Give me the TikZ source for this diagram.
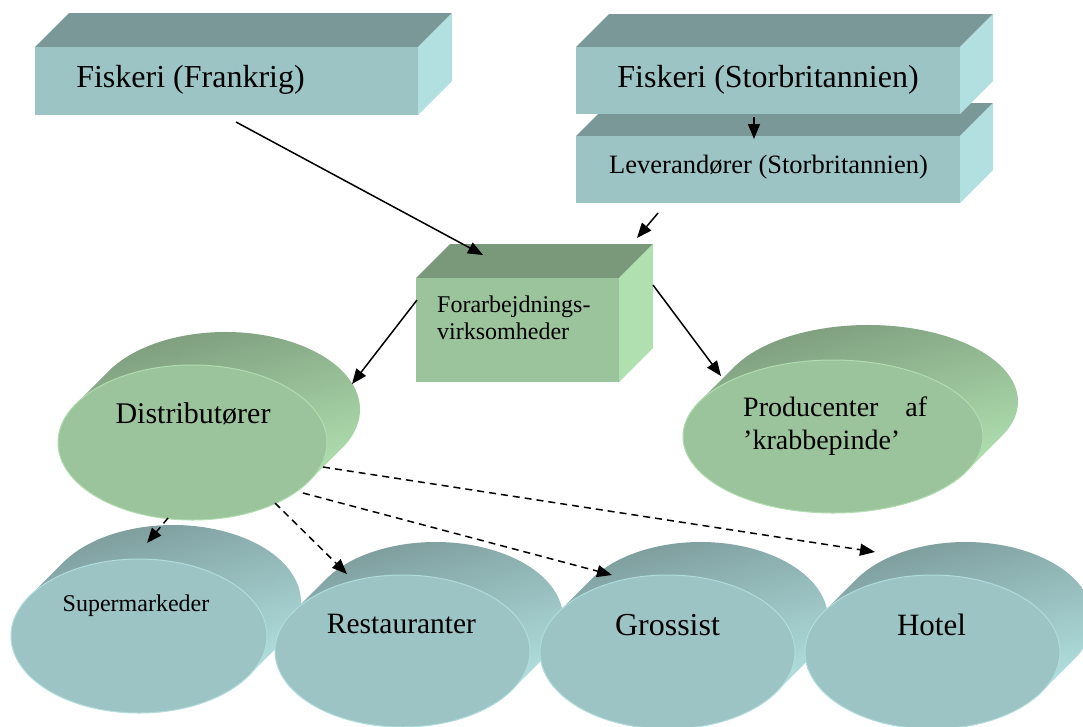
\documentclass[tikz,border=0pt]{standalone}
\usepackage{fontspec}
\setmainfont{Liberation Serif}
\usetikzlibrary{shapes.geometric,arrows.meta}
\definecolor{cAfront}{HTML}{9DC4C4}
\definecolor{cAtop}{HTML}{7A9898}
\definecolor{cAside}{HTML}{B2E0E0}
\definecolor{cArim}{HTML}{B0DCDC}
\definecolor{cBfront}{HTML}{9CC49C}
\definecolor{cBtop}{HTML}{7A987A}
\definecolor{cBside}{HTML}{B0E0B0}
\definecolor{cBrim}{HTML}{B0DCB0}
% cylinder side: cx cy a b depth prefix
\newcommand\mycyl[6]{%
  \pgfmathsetmacro\mytz{atan(#4/#3)}%
  \path[top color=#6top, bottom color=#6side, shading angle=15]
    (#1,#2) ++(\mytz:#3 and #4) -- ++(#5,-#5)
    arc[start angle=\mytz, end angle=\mytz-180, x radius=#3, y radius=#4]
    -- ++(-#5,#5)
    arc[start angle=\mytz-180, end angle=\mytz, x radius=#3, y radius=#4] -- cycle;%
}
% box top and right faces: x y w h d prefix
\newcommand\myboxfaces[6]{%
  \fill[#6top] (#1,#2) -- ++(#5,-#5) -- ++(#3,0) -- ++(-#5,#5) -- cycle;%
  \fill[#6side] (#1+#3,#2) -- ++(#5,-#5) -- ++(0,#4) -- ++(-#5,#5) -- cycle;%
}
\tikzset{
  frontA/.style={rectangle, fill=cAfront, inner sep=0pt, anchor=north west},
  frontB/.style={rectangle, fill=cBfront, inner sep=0pt, anchor=north west},
  ellA/.style={ellipse, fill=cAfront, draw=cArim, line width=1pt, inner sep=0pt},
  ellB/.style={ellipse, fill=cBfront, draw=cBrim, line width=1pt, inner sep=0pt},
  lbl/.style={inner sep=0pt, anchor=base, text=black},
  conn/.style={line width=1.5pt, -{Triangle[length=15pt,width=12pt]}},
  dconn/.style={conn, dash pattern=on 7pt off 5pt},
}
\begin{document}
\begin{tikzpicture}[x=1pt, y=-1pt]
\useasboundingbox (0,0) rectangle (1083,726);
% --- boxes ---
\myboxfaces{35}{47}{383}{68}{34}{cA}
\node[frontA, minimum width=383pt, minimum height=68pt] (fr) at (35,47) {};
\myboxfaces{576}{136}{384}{67}{33}{cA}
\node[frontA, minimum width=384pt, minimum height=67pt] (lev) at (576,136) {};
\myboxfaces{576}{47}{384}{67}{33}{cA}
\node[frontA, minimum width=384pt, minimum height=67pt] (gb) at (576,47) {};
\myboxfaces{416}{278}{203}{104}{34}{cB}
\node[frontB, minimum width=203pt, minimum height=104pt] (forar) at (416,278) {};
% --- green cylinders ---
\mycyl{192.5}{442.5}{134.5}{77.5}{33}{cB}
\node[ellB, minimum width=269pt, minimum height=155pt] (dist) at (192.5,442.5) {};
\mycyl{833}{436.5}{150}{76.5}{35}{cB}
\node[ellB, minimum width=300pt, minimum height=153pt] (prod) at (833,436.5) {};
% --- teal cylinders ---
\mycyl{139}{636}{128}{77}{34}{cA}
\node[ellA, minimum width=256pt, minimum height=154pt] (super) at (139,636) {};
\mycyl{402.5}{651}{127.5}{76}{33}{cA}
\node[ellA, minimum width=255pt, minimum height=152pt] (rest) at (402.5,651) {};
\mycyl{667.5}{652}{127.5}{77}{33}{cA}
\node[ellA, minimum width=255pt, minimum height=154pt] (gros) at (667.5,652) {};
\mycyl{932.5}{652}{127.5}{77}{33}{cA}
\node[ellA, minimum width=255pt, minimum height=154pt] (hotel) at (932.5,652) {};
% --- labels ---
\node[lbl, font=\fontsize{32}{38}\selectfont] (tfr) at (190.5,87) {Fiskeri (Frankrig)};
\node[lbl, font=\fontsize{32}{38}\selectfont] (tgb) at (768,87) {Fiskeri (Storbritannien)};
\node[lbl, font=\fontsize{26.5}{30}\selectfont] (tlev) at (768.5,173) {Leverandører (Storbritannien)};
\node[lbl, anchor=base west, font=\fontsize{24}{27}\selectfont] (tfa) at (437,312) {Forarbejdnings-};
\node[lbl, anchor=base west, font=\fontsize{24}{27}\selectfont] (tfb) at (437,339) {virksomheder};
\node[lbl, font=\fontsize{30}{36}\selectfont] (tdist) at (193,423) {Distributører};
\node[lbl, anchor=base west, font=\fontsize{28}{33}\selectfont] (tpa) at (743,416) {\makebox[184pt][s]{Producenter af}};
\node[lbl, anchor=base west, font=\fontsize{28}{33}\selectfont] (tpb) at (743,449) {’krabbepinde’};
\node[lbl, font=\fontsize{24}{29}\selectfont] (tsup) at (136,611) {Supermarkeder};
\node[lbl, font=\fontsize{29.5}{35}\selectfont] (trest) at (401.5,633) {Restauranter};
\node[lbl, font=\fontsize{32}{38}\selectfont] (tgros) at (667.5,635) {Grossist};
\node[lbl, font=\fontsize{31}{37}\selectfont] (thotel) at (931.5,635) {Hotel};
% --- connector end points ---
\coordinate (s1) at (236,122); \coordinate (e1) at (483,255);
\coordinate (s2) at (754,117); \coordinate (e2) at (754,139);
\coordinate (s3) at (658,213); \coordinate (e3) at (637,238);
\coordinate (s4) at (417,300); \coordinate (e4) at (352,384);
\coordinate (s5) at (653,285); \coordinate (e5) at (721,376);
\coordinate (s6) at (168,518); \coordinate (e6) at (147,543);
\coordinate (s7) at (275,503); \coordinate (e7) at (347,574);
\coordinate (s8) at (303,493); \coordinate (e8) at (612,575);
\coordinate (s9) at (323,467); \coordinate (e9) at (875,552);
% --- connectors ---
\draw[conn] (s1) -- (e1);
\draw[conn] (s2) -- (e2);
\draw[conn] (s3) -- (e3);
\draw[conn] (s4) -- (e4);
\draw[conn] (s5) -- (e5);
\draw[dconn] (s6) -- (e6);
\draw[dconn] (s7) -- (e7);
\draw[dconn] (s8) -- (e8);
\draw[dconn] (s9) -- (e9);
\end{tikzpicture}
\end{document}
